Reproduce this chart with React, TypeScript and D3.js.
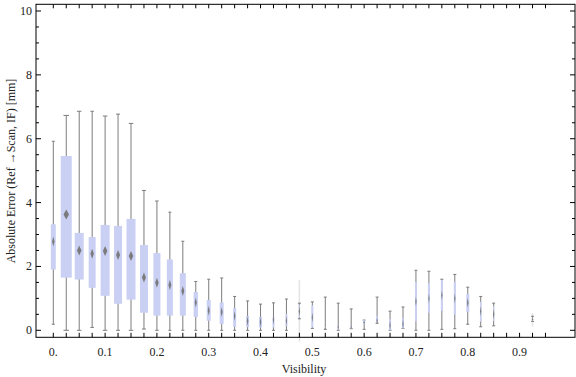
import React from "react";
import * as d3 from "d3";

const visibility = [0, 0.025, 0.05, 0.075, 0.1, 0.125, 0.15, 0.175, 0.2, 0.225, 0.25, 0.275, 0.3, 0.325, 0.35, 0.375, 0.4, 0.425, 0.45, 0.475, 0.5, 0.525, 0.55, 0.575, 0.6, 0.625, 0.65, 0.675, 0.7, 0.725, 0.75, 0.775, 0.8, 0.825, 0.85, 0.925];
const whiskerLow = [0.19, 0, 0, 0.09, 0, 0, 0, 0.04, 0, 0, 0, 0, 0, 0, 0, 0, 0, 0, 0, 0.36, 0.06, 0.03, 0, 0.05, 0.03, 0.22, 0, 0.06, 0, 0, 0.03, 0.05, 0.19, 0.11, 0.14, 0.28];
const quartile1 = [1.9, 1.65, 1.59, 1.33, 1.08, 0.83, 0.96, 0.55, 0.46, 0.46, 0.46, 0.42, 0.3, 0.2, 0.11, 0.1, 0.09, 0.09, 0.13, 0.4, 0.09, 0.03, 0.02, 0.06, 0.2, 0.25, 0, 0.06, 0.28, 0.55, 0.61, 0.49, 0.58, 0.27, 0.29, 0.3];
const medians = [2.78, 3.63, 2.5, 2.4, 2.48, 2.36, 2.33, 1.65, 1.49, 1.42, 1.23, 0.87, 0.61, 0.57, 0.45, 0.29, 0.26, 0.33, 0.3, 0.6, 0.4, 0.05, 0.1, 0.1, 0.25, 0.3, 0.15, 0.2, 0.9, 1.0, 1.1, 1.0, 0.86, 0.6, 0.5, 0.35];
const quartile3 = [3.32, 5.46, 3.05, 2.92, 3.3, 3.27, 3.49, 2.67, 2.42, 2.22, 1.79, 1.2, 0.95, 0.87, 0.7, 0.45, 0.42, 0.41, 0.51, 0.8, 0.78, 0.1, 0.16, 0.15, 0.32, 0.45, 0.35, 0.38, 1.51, 1.48, 1.57, 1.52, 1.14, 0.89, 0.76, 0.4];
const whiskerHigh = [5.92, 6.73, 6.86, 6.86, 6.71, 6.77, 6.48, 4.38, 4.05, 3.7, 2.79, 1.53, 1.6, 1.64, 1.06, 0.92, 0.82, 0.86, 0.98, 0.85, 0.89, 1.04, 0.85, 0.67, 0.32, 1.04, 0.6, 0.73, 1.88, 1.85, 1.6, 1.75, 1.35, 1.06, 0.85, 0.44];
// relative box widths (sample-size style)
const boxWidths = [5, 11, 9, 7, 9, 8, 9, 8, 7, 6, 6, 4.3, 4, 4, 3, 3, 3, 2, 2, 1, 2, 1, 1, 1, 2, 2, 2, 2, 2, 2, 2, 2, 3, 1.5, 1, 1];
// faint outlier extents [visibility, low, high]
const faintVis = [0.475, 0.625, 0.925];
const faintLow = [-0.35, 0.2, 0.12];
const faintHigh = [1.57, 0.45, 0.54];

const xMajor = [0, 0.1, 0.2, 0.3, 0.4, 0.5, 0.6, 0.7, 0.8, 0.9];
const xMajorLabels = ["0.", "0.1", "0.2", "0.3", "0.4", "0.5", "0.6", "0.7", "0.8", "0.9"];
const yMajor = [0, 2, 4, 6, 8, 10];

export default function App() {
  const W = 576, H = 377;
  const left = 36, right = 575, top = 4.3, bottom = 337.3;
  const x = d3.scaleLinear().domain([-0.0334, 1.007]).range([left, right]);
  const y = d3.scaleLinear().domain([-0.219, 10.21]).range([bottom, top]);
  const xMinor = d3.range(0, 0.951, 0.025);
  const yMinor = d3.range(0, 10.01, 0.5);
  const boxColor = "#cad0f4";
  const whiskerColor = "#7c7c7c";
  const font = "'Liberation Serif', 'Times New Roman', serif";
  const isMajorY = (v: number) => Math.abs(v / 2 - Math.round(v / 2)) < 1e-6;

  return (
    <svg width={W} height={H} style={{ position: "absolute", left: 0, top: 0 }}>
      <defs>
        <clipPath id="plotclip">
          <rect x={left} y={0} width={right - left} height={H} />
        </clipPath>
        <filter id="soft" x="-50%" y="-50%" width="200%" height="200%">
          <feGaussianBlur stdDeviation="0.5" />
        </filter>
      </defs>
      <rect x={0} y={0} width={W} height={H} fill="white" />
      {/* faint extents */}
      <g clipPath="url(#plotclip)">
        {faintVis.map((v, i) => (
          <line key={"f" + i} x1={x(v)} x2={x(v)} y1={y(faintLow[i])} y2={y(faintHigh[i])} stroke="#e4e4e4" strokeWidth={1.5} />
        ))}
      </g>
      {/* whiskers */}
      {visibility.map((v, i) => {
        const cx = x(v);
        const cap = Math.max(boxWidths[i] * 0.5, 3);
        return (
          <g key={"w" + i} stroke={whiskerColor} strokeWidth={1}>
            <line x1={cx} x2={cx} y1={y(whiskerLow[i])} y2={y(whiskerHigh[i])} />
            <line x1={cx - cap / 2} x2={cx + cap / 2} y1={y(whiskerHigh[i])} y2={y(whiskerHigh[i])} />
            <line x1={cx - cap / 2} x2={cx + cap / 2} y1={y(whiskerLow[i])} y2={y(whiskerLow[i])} />
          </g>
        );
      })}
      {/* boxes */}
      {visibility.map((v, i) => {
        const cx = x(v);
        const w = boxWidths[i];
        return (
          <rect key={"b" + i} x={cx - w / 2} width={w} y={y(quartile3[i])} height={Math.max(y(quartile1[i]) - y(quartile3[i]), 1)} fill={boxColor} />
        );
      })}
      {/* medians */}
      {visibility.map((v, i) => {
        const cx = x(v);
        const hw = Math.max(boxWidths[i] * 0.25, 0.6);
        const hh = Math.min(5, Math.max((y(quartile1[i]) - y(quartile3[i])) / 2, 1.5));
        const cy = y(medians[i]);
        return (
          <path key={"m" + i} d={`M${cx},${cy - hh}L${cx + hw},${cy}L${cx},${cy + hh}L${cx - hw},${cy}Z`} fill="#777" filter="url(#soft)" opacity={0.95} />
        );
      })}
      {/* frame */}
      <rect x={left} y={top} width={right - left} height={bottom - top} fill="none" stroke="black" strokeWidth={1} />
      {/* bottom & top ticks */}
      {xMinor.map((v, i) => (
        <g key={"xt" + i} stroke="black" strokeWidth={1}>
          <line x1={x(v)} x2={x(v)} y1={bottom} y2={bottom - 4.5} />
          <line x1={x(v)} x2={x(v)} y1={top} y2={top + 4} />
        </g>
      ))}
      {/* left & right ticks */}
      {yMinor.map((v, i) => {
        const len = isMajorY(v) ? 5 : 3;
        return (
          <g key={"yt" + i} stroke="black" strokeWidth={1}>
            <line x1={left} x2={left + len} y1={y(v)} y2={y(v)} />
            <line x1={right} x2={right - len} y1={y(v)} y2={y(v)} />
          </g>
        );
      })}
      {/* labels */}
      {xMajor.map((v, i) => (
        <text key={"xl" + i} x={x(v)} y={356} textAnchor="middle" fontFamily={font} fontSize={12} fill="#222">
          {xMajorLabels[i]}
        </text>
      ))}
      {yMajor.map((v, i) => (
        <text key={"yl" + i} x={32} y={y(v) + 4} textAnchor="end" fontFamily={font} fontSize={12} fill="#222">
          {v}
        </text>
      ))}
      <text x={304} y={373} textAnchor="middle" fontFamily={font} fontSize={12} fill="#222">Visibility</text>
      <text transform={`translate(15,171) rotate(-90)`} textAnchor="middle" fontFamily={font} fontSize={12} fill="#222">
        Absolute Error (Ref →Scan, IF) [mm]
      </text>
    </svg>
  );
}
